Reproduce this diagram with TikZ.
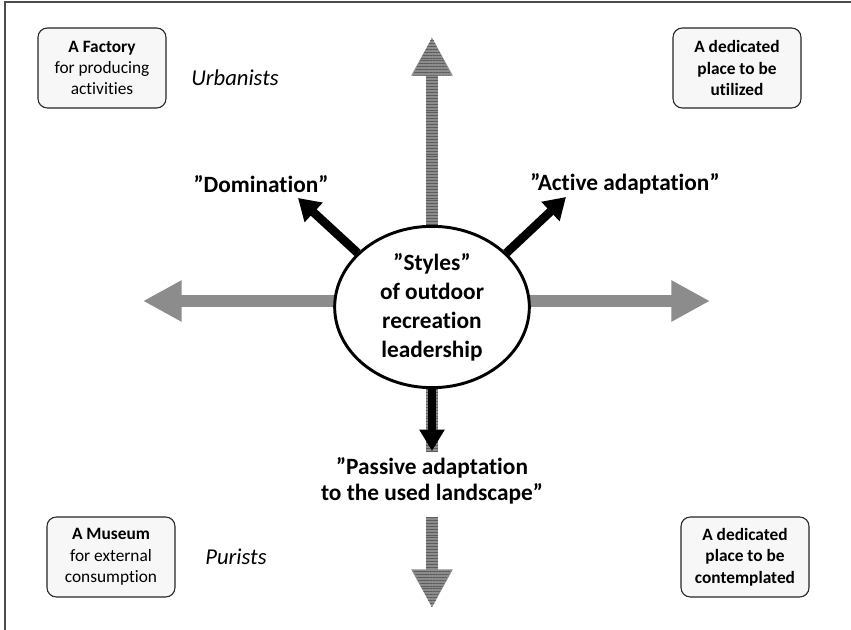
\documentclass[tikz,border=0pt]{standalone}
\usepackage{fontspec}
\setmainfont{Carlito}[Ligatures=NoCommon]
\usepackage{tikz}
\usetikzlibrary{backgrounds,shapes,arrows.meta,patterns.meta}

\definecolor{arrowgray}{gray}{0.55}
\definecolor{stripegray}{gray}{0.36}
\definecolor{boxfill}{gray}{0.97}

\tikzset{
  cornerbox/.style={draw=black!85, fill=boxfill, rounded corners=7pt, line width=0.8pt,
    minimum width=96pt, minimum height=60pt, inner sep=2pt, align=center,
    font=\fontsize{13}{16}\selectfont},
  bigarrow/.style={draw=arrowgray, line width=9.5pt, -{Triangle[width=29pt,length=29pt]}},
  stripes/.style={postaction={draw=stripegray, line width=9.5pt, dash pattern=on 0.7pt off 1.5pt, -, shorten >=#1}},
  stripes/.default=29pt,
  headstripes/.style={pattern={Lines[distance=2.2pt, line width=0.7pt]}, pattern color=stripegray},
  blackarrow/.style={draw=black, line width=6.5pt, -{Triangle[width=19pt,length=16pt]}},
  leadtext/.style={font=\fontsize{17.5}{20}\selectfont\bfseries, align=center, inner sep=1pt},
  camptext/.style={font=\fontsize{17}{20}\selectfont\itshape}
}

\begin{document}
\begin{tikzpicture}[x=0.75pt, y=-0.75pt]
\useasboundingbox (0,0) rectangle (851,630);
\draw[black!70, line width=1pt] (5,630) -- (5,2) -- (851,2);

% centre
\node[ellipse, draw, fill=white, line width=2.2pt, minimum width=146pt, minimum height=121pt,
  inner sep=0pt, align=center, font=\fontsize{17.5}{21.75}\selectfont\bfseries]
  (hub) at (432,307) {”Styles”\\of outdoor\\recreation\\leadership};

% corners
\node[cornerbox] (fac) at (102,68) {{\bfseries A Factory}\\for producing\\activities};
\node[cornerbox, font=\fontsize{13}{16}\selectfont\bfseries] (uti) at (737,68) {A dedicated\\place to be\\utilized};
\node[cornerbox] (mus) at (111,557) {{\bfseries A Museum}\\for external\\consumption};
\node[cornerbox, font=\fontsize{13}{16}\selectfont\bfseries] (con) at (745,557) {A dedicated\\place to be\\contemplated};

\node[camptext] (urb) at (235,78) {Urbanists};
\node[camptext] (pur) at (236,557) {Purists};

% styles
\node[leadtext] (dom) at (261,184) {”Domination”};
\node[leadtext] (act) at (625,184) {”Active adaptation”};
\node[leadtext] (pas) at (432,481) {”Passive adaptation\\to the used landscape”};

\coordinate (upend) at (432,37);
\coordinate (leftend) at (143,301);
\coordinate (rightend) at (710,301);
\coordinate (downend) at (432,608);
\coordinate (domtip) at (298,198);
\coordinate (acttip) at (566,197);
\coordinate (pastip) at (432,451);

\begin{scope}[on background layer]
\draw[bigarrow, stripes] (hub.center) -- (upend);
\path[headstripes] (upend) -- ++(19.3,38.7) -- ++(-38.6,0) -- cycle;
\draw[bigarrow] (hub.center |- leftend) -- (leftend);
\draw[bigarrow] (hub.center |- rightend) -- (rightend);
\draw[draw=arrowgray, line width=9.5pt, stripes=0pt] (hub.center) -- (pastip);
\end{scope}

\draw[bigarrow, stripes, shorten <=8pt] (pas.south) -- (downend);
\path[headstripes] (downend) -- ++(19.3,-38.7) -- ++(-38.6,0) -- cycle;

\draw[blackarrow] (hub.144) -- (domtip);
\draw[blackarrow] (hub.36) -- (acttip);
\draw[blackarrow, line width=6pt, -{Triangle[width=18pt,length=16pt]}] (hub.south) -- (pastip);
\end{tikzpicture}
\end{document}
